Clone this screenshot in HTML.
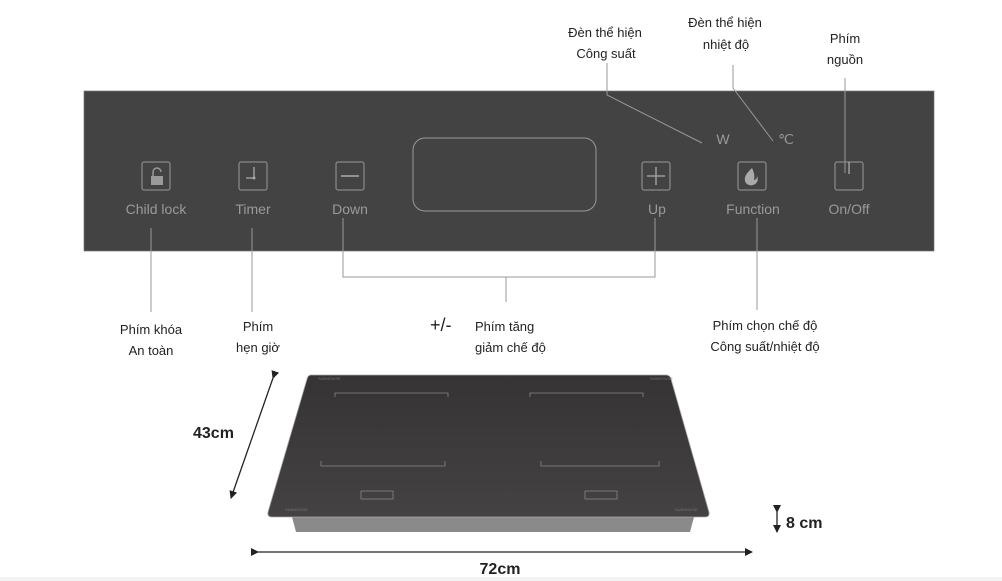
<!DOCTYPE html>
<html><head><meta charset="utf-8"><style>
body{margin:0;background:#fff;}
svg{display:block;font-family:"Liberation Sans",sans-serif;}
</style></head><body>
<svg width="1002" height="581" viewBox="0 0 1002 581" xmlns="http://www.w3.org/2000/svg">
<defs>
<marker id="ah" markerWidth="8" markerHeight="8" refX="7" refY="4" orient="auto" markerUnits="userSpaceOnUse"><path d="M0,0 L8,4 L0,8 z" fill="#222"/></marker>
<linearGradient id="glass" x1="0" y1="0" x2="0" y2="1"><stop offset="0" stop-color="#353333"/><stop offset="1" stop-color="#444242"/></linearGradient>
</defs>
<rect width="1002" height="581" fill="#fff"/>
<rect x="0" y="577" width="1002" height="4" fill="#f3f3f3"/>
<!-- panel -->
<rect x="84" y="91" width="850" height="160" fill="#434343" stroke="#777" stroke-width="0.7"/>
<rect x="413" y="138" width="183" height="73" rx="12" fill="none" stroke="#999" stroke-width="1"/>
<g fill="none" stroke="#999" stroke-width="1">
<rect x="142" y="162" width="28" height="28" rx="2"/>
<rect x="239" y="162" width="28" height="28" rx="2"/>
<rect x="336" y="162" width="28" height="28" rx="2"/>
<rect x="642" y="162" width="28" height="28" rx="2"/>
<rect x="738" y="162" width="28" height="28" rx="2"/>
<rect x="835" y="162" width="28" height="28" rx="2"/>
</g>
<rect x="151" y="176" width="12" height="9" fill="#9a9a9a"/>
<path d="M153,176 v-4 a4,4 0 0 1 8,0" fill="none" stroke="#9a9a9a" stroke-width="1.5"/>
<path d="M254,167 v11 h-8" fill="none" stroke="#aaa" stroke-width="1.3"/><circle cx="254" cy="178" r="1.5" fill="#aaa"/>
<path d="M341,176 h18" stroke="#aaa" stroke-width="1.5"/>
<path d="M647,176 h18 M656,167 v18" stroke="#aaa" stroke-width="1.3"/>
<path d="M752,168 c-5,5 -8,8 -7,13 c1,4 6,5 8,4 c4,-1 6,-5 4,-9 c0,3 -2,4 -3,4 c1,-4 0,-8 -2,-12z" fill="#aaa"/>
<path d="M849,162 v12" stroke="#aaa" stroke-width="1.3"/>
<g fill="#9a9a9a" font-size="14" text-anchor="middle">
<text x="156" y="214">Child lock</text>
<text x="253" y="214">Timer</text>
<text x="350" y="214">Down</text>
<text x="657" y="214">Up</text>
<text x="753" y="214">Function</text>
<text x="849" y="214">On/Off</text>
<text x="723" y="144">W</text>
<text x="786" y="144">℃</text>
</g>
<!-- leader lines -->
<g fill="none" stroke="#999" stroke-width="1">
<path d="M151,228 V312"/>
<path d="M252,228 V312"/>
<path d="M343,218 V277 H655 V218"/>
<path d="M506,277 V302"/>
<path d="M757,218 V310"/>
<path d="M607,63 V95 L702,143"/>
<path d="M733,65 V88 L773,141"/>
<path d="M845,78 V173"/>
</g>
<g fill="#222" font-size="13" text-anchor="middle">
<text x="605" y="37">Đèn thể hiện</text>
<text x="606" y="58">Công suất</text>
<text x="725" y="27">Đèn thể hiện</text>
<text x="726" y="49">nhiệt độ</text>
<text x="845" y="43">Phím</text>
<text x="845" y="64">nguồn</text>
<text x="151" y="334">Phím khóa</text>
<text x="151" y="355">An toàn</text>
<text x="258" y="331">Phím</text>
<text x="258" y="352">hẹn giờ</text>
<text x="765" y="330">Phím chọn chế độ</text>
<text x="765" y="351">Công suất/nhiệt độ</text>
</g>
<g fill="#222" font-size="13">
<text x="475" y="331">Phím tăng</text>
<text x="475" y="352">giảm chế độ</text>
</g>
<text x="430" y="331" font-size="18" fill="#222">+/-</text>
<!-- hob -->
<path d="M292,517 H694 L690,532 H296 Z" fill="#8a8a8a"/>
<path d="M311,375 H666 Q670,375 671,379 L709,512 Q710,517 705,517 H272 Q267,517 268,512 L307,379 Q308,375 311,375 Z" fill="url(#glass)" stroke="#aaa" stroke-width="0.8"/>
<g fill="none" stroke="#888" stroke-width="0.8">
<path d="M335,397 V393 H448 V397"/><path d="M321,461 V466 H445 V461"/>
<path d="M530,397 V393 H643 V397"/><path d="M541,461 V466 H659 V461"/>
<rect x="361" y="491" width="32" height="8"/><rect x="585" y="491" width="32" height="8"/>
</g>
<g fill="#777" font-size="4">
<text x="318" y="380">SUNHOUSE</text><text x="650" y="380">SUNHOUSE</text>
<text x="285" y="511">SUNHOUSE</text><text x="675" y="511">SUNHOUSE</text>
</g>
<!-- dims -->
<g stroke="#222" stroke-width="1.3" fill="none">
<path d="M273,378 L231,498" marker-end="url(#ah)" marker-start="url(#ah)"/>
<path d="M258,552 L752,552" marker-end="url(#ah)" marker-start="url(#ah)"/>
<path d="M777,512 V532" marker-end="url(#ah)" marker-start="url(#ah)"/>
</g>
<text x="193" y="438" font-size="16" font-weight="bold" fill="#222">43cm</text>
<text x="500" y="574" font-size="16" font-weight="bold" fill="#222" text-anchor="middle">72cm</text>
<text x="786" y="528" font-size="16" font-weight="bold" fill="#222">8 cm</text>
</svg>
</body></html>
